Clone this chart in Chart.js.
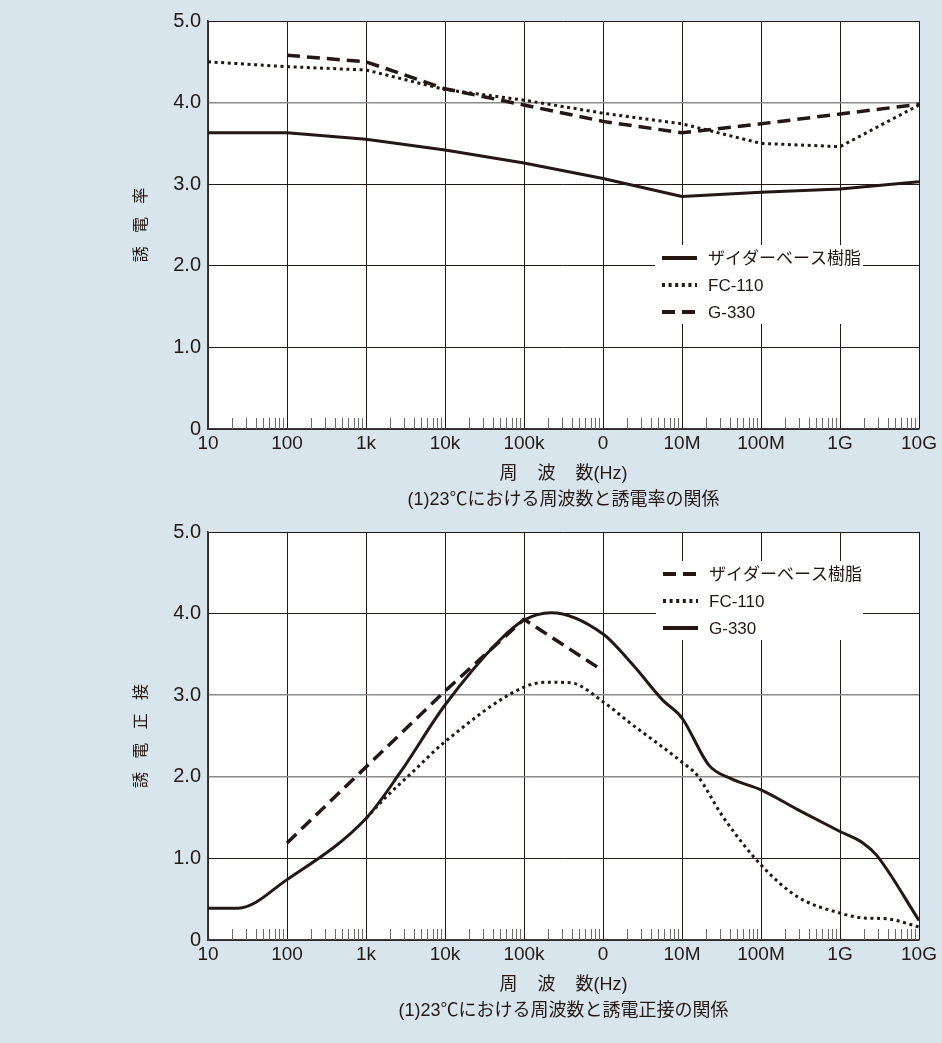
<!DOCTYPE html>
<html>
<head>
<meta charset="utf-8">
<script src="https://cdn.jsdelivr.net/npm/chart.js@4.4.1/dist/chart.umd.min.js"></script>
<style>
  body { margin: 0; background: #d9e5ec; width: 942px; height: 1043px; overflow: hidden; }
  .box { position: absolute; left: 0; width: 942px; height: 515px; }
  #box1 { top: 0; }
  #box2 { top: 511px; }
</style>
</head>
<body>
<div class="box" id="box1"><canvas id="chart1"></canvas></div>
<div class="box" id="box2"><canvas id="chart2"></canvas></div>
<script>
// axis labels
const freqTickLabels = ['10', '100', '1k', '10k', '100k', '0', '10M', '100M', '1G', '10G'];
const yTickLabels = ['0', '1.0', '2.0', '3.0', '4.0', '5.0'];
const seriesNames = ['ザイダーベース樹脂', 'FC-110', 'G-330'];

// (1) 誘電率
const dkFreq = [10, 100, 1e3, 1e4, 1e5, 1e6, 1e7, 1e8, 1e9, 1e10];
const dkZaider = [3.63, 3.63, 3.55, 3.42, 3.26, 3.07, 2.85, 2.90, 2.94, 3.03];
const dkFc110 = [4.50, 4.44, 4.40, 4.16, 4.03, 3.87, 3.74, 3.50, 3.46, 3.97];
const dkG330Freq = [100, 1e3, 1e4, 1e5, 1e6, 1e7, 1e8, 1e9, 1e10];
const dkG330 = [4.58, 4.50, 4.17, 3.97, 3.77, 3.63, 3.74, 3.86, 3.98];

// (2) 誘電正接
const tdZaiderFreq = [100, 1e3, 1e4, 1e5, 1e6];
const tdZaider = [1.19, 2.12, 3.05, 3.93, 3.30];
const tdFc110Freq = [1e3, 1.66e3, 3.9e3, 1e4, 1e5, 2e5, 4e5, 1e6, 2.2e6, 1e7, 1.55e7, 3.3e7, 1e8, 2.9e8, 1e9, 2e9, 3.9e9, 1e10];
const tdFc110 = [1.49, 1.72, 2.06, 2.43, 3.10, 3.16, 3.15, 2.92, 2.66, 2.18, 2.02, 1.51, 0.92, 0.53, 0.33, 0.27, 0.26, 0.16];
const tdG330Freq = [10, 24, 100, 1e3, 2.7e3, 1e4, 5e4, 1e5, 2.2e5, 1e6, 2.4e6, 5.7e6, 1e7, 2.2e7, 4.1e7, 1e8, 3.16e8, 1e9, 1.95e9, 2.9e9, 1e10];
const tdG330 = [0.39, 0.39, 0.74, 1.49, 2.05, 2.88, 3.68, 3.92, 4.01, 3.75, 3.37, 2.94, 2.72, 2.14, 1.98, 1.84, 1.58, 1.33, 1.19, 1.04, 0.24];

const ink = '#231815';
const fontStack = '"Liberation Sans", "Noto Sans CJK JP", sans-serif';

const solid = { borderDash: [], borderWidth: 3 };
const dotted = { borderDash: [3, 3.6], borderWidth: 3 };
const dashed = { borderDash: [13, 7], borderWidth: 3.5 };

function pts(xs, ys) {
    return xs.map((x, i) => ({ x: x, y: ys[i] }));
}

function isDecade(v) {
    const e = Math.log10(v);
    return Math.abs(e - Math.round(e)) < 1e-9;
}

// white plot area
const plotBg = {
    id: 'plotBg',
    beforeDraw(chart) {
        const { ctx, chartArea } = chart;
        ctx.save();
        ctx.fillStyle = '#ffffff';
        ctx.fillRect(chartArea.left, chartArea.top, chartArea.width, chartArea.height);
        ctx.restore();
    }
};

// short ticks at 2..9 inside each decade
const minorTicks = {
    id: 'minorTicks',
    beforeDatasetsDraw(chart) {
        const { ctx, chartArea } = chart;
        const x = chart.scales.x;
        ctx.save();
        ctx.strokeStyle = '#6a6a6a';
        ctx.lineWidth = 1;
        x.ticks.forEach(t => {
            if (isDecade(t.value)) return;
            const px = Math.round(x.getPixelForValue(t.value)) + 0.5;
            ctx.beginPath();
            ctx.moveTo(px, chartArea.bottom);
            ctx.lineTo(px, chartArea.bottom - 11);
            ctx.stroke();
        });
        ctx.restore();
    }
};

// legend sitting inside the plot, on a white patch
const insideLegend = {
    id: 'insideLegend',
    beforeDatasetsDraw(chart, args, opts) {
        const { ctx, chartArea } = chart;
        ctx.save();
        ctx.fillStyle = '#ffffff';
        ctx.fillRect(chartArea.left + opts.x, chartArea.top + opts.y, opts.width, opts.height);
        ctx.restore();
    },
    afterDatasetsDraw(chart, args, opts) {
        const { ctx, chartArea } = chart;
        const x0 = chartArea.left + opts.x;
        const y0 = chartArea.top + opts.y;
        ctx.save();
        chart.data.datasets.forEach((ds, row) => {
            const y = y0 + 13 + row * 27;
            ctx.strokeStyle = ink;
            ctx.lineWidth = 4;
            ctx.lineCap = 'butt';
            ctx.setLineDash(ds.borderDash);
            ctx.beginPath();
            ctx.moveTo(x0 + 7, y);
            ctx.lineTo(x0 + 42, y);
            ctx.stroke();
            ctx.setLineDash([]);
            ctx.fillStyle = ink;
            ctx.font = '17px ' + fontStack;
            ctx.textBaseline = 'middle';
            ctx.fillText(ds.label, x0 + 53, y + 1);
        });
        ctx.restore();
    }
};

function crearGrafico(id, datasets, yTitle, caption, grayRows, legendPos) {
    return new Chart(document.getElementById(id), {
        type: 'line',
        data: { datasets: datasets },
        plugins: [plotBg, minorTicks, insideLegend],
        options: {
            responsive: true,
            maintainAspectRatio: false,
            devicePixelRatio: 1,
            animation: false,
            layout: { padding: { top: 21, right: 23, left: 124, bottom: 2 } },
            elements: { point: { radius: 0 } },
            plugins: {
                legend: { display: false },
                tooltip: { enabled: false },
                insideLegend: legendPos
            },
            scales: {
                x: {
                    type: 'logarithmic',
                    min: 10,
                    max: 1e10,
                    afterBuildTicks(scale) {
                        const ticks = [];
                        for (let e = 1; e <= 10; e++) {
                            for (let m = 1; m <= 9; m++) {
                                if (e === 10 && m > 1) break;
                                ticks.push({ value: m * Math.pow(10, e), major: m === 1 });
                            }
                        }
                        scale.ticks = ticks;
                    },
                    afterFit(scale) { scale.height = 84; },
                    ticks: {
                        autoSkip: false,
                        maxRotation: 0,
                        padding: 3,
                        color: ink,
                        font: { family: fontStack, size: 19 },
                        callback: v => isDecade(v) ? freqTickLabels[Math.round(Math.log10(v)) - 1] : ''
                    },
                    grid: {
                        drawTicks: false,
                        color: c => (c.tick && isDecade(c.tick.value)) ? ink : 'rgba(0,0,0,0)',
                        lineWidth: 1
                    },
                    border: { color: '#3a3a3a', width: 1.5 },
                    title: {
                        display: true,
                        text: ['周    波    数(Hz)', caption],
                        color: ink,
                        font: { family: fontStack, size: 18, lineHeight: 1.45 },
                        padding: { top: 0, bottom: 0 }
                    }
                },
                y: {
                    min: 0,
                    max: 5,
                    afterFit(scale) { scale.width = 84; },
                    ticks: {
                        stepSize: 1,
                        padding: 7,
                        color: ink,
                        font: { family: fontStack, size: 20 },
                        callback: v => yTickLabels[Math.round(v)]
                    },
                    grid: {
                        drawTicks: false,
                        color: c => grayRows.includes(c.tick.value) ? '#8a8a8a' : ink,
                        lineWidth: c => grayRows.includes(c.tick.value) ? 1.5 : 1
                    },
                    border: { color: '#3a3a3a', width: 1.5 },
                    title: {
                        display: true,
                        text: yTitle,
                        color: ink,
                        font: { family: fontStack, size: 16 },
                        padding: { top: 8, bottom: 0 }
                    }
                }
            }
        }
    });
}

const base = { borderColor: ink, fill: false, pointRadius: 0, borderCapStyle: 'butt', borderJoinStyle: 'round' };

crearGrafico('chart1', [
    { ...base, ...solid, label: seriesNames[0], data: pts(dkFreq, dkZaider), tension: 0 },
    { ...base, ...dotted, label: seriesNames[1], data: pts(dkFreq, dkFc110), tension: 0 },
    { ...base, ...dashed, label: seriesNames[2], data: pts(dkG330Freq, dkG330), tension: 0 }
], '誘   電   率', '(1)23℃における周波数と誘電率の関係', [4], { x: 447, y: 224, width: 208, height: 79 });

crearGrafico('chart2', [
    { ...base, ...dashed, label: seriesNames[0], data: pts(tdZaiderFreq, tdZaider), tension: 0 },
    { ...base, ...dotted, label: seriesNames[1], data: pts(tdFc110Freq, tdFc110), cubicInterpolationMode: 'monotone' },
    { ...base, ...solid, label: seriesNames[2], data: pts(tdG330Freq, tdG330), cubicInterpolationMode: 'monotone' }
], '誘   電   正   接', '(1)23℃における周波数と誘電正接の関係', [2, 3], { x: 448, y: 29, width: 207, height: 79 });
</script>
</body>
</html>
